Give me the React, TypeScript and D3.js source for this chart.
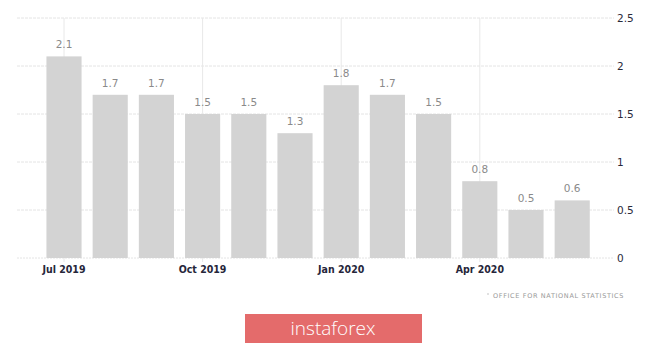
import React from "react";
import * as d3 from "d3";

const months = ["2019-07","2019-08","2019-09","2019-10","2019-11","2019-12","2020-01","2020-02","2020-03","2020-04","2020-05","2020-06"];
const values = [2.1, 1.7, 1.7, 1.5, 1.5, 1.3, 1.8, 1.7, 1.5, 0.8, 0.5, 0.6];
const yTicks = [0, 0.5, 1, 1.5, 2, 2.5];
const xTickMonths = ["2019-07", "2019-10", "2020-01", "2020-04"];
const xTickLabels = ["Jul 2019", "Oct 2019", "Jan 2020", "Apr 2020"];
const sourceText = "OFFICE FOR NATIONAL STATISTICS";
const brandText = "instaforex";

export default function App() {
  const W = 665, H = 345;
  const x = d3.scaleBand<string>().domain(months).range([40.9, 595.3]).paddingInner(0.24).paddingOuter(0.12);
  const y = d3.scaleLinear().domain([0, 2.5]).range([258, 18]);
  const gridLeft = 17, gridRight = 614;
  return (
    <svg width={W} height={H} style={{ position: "absolute", left: 0, top: 0, background: "#fff" }}>
      <rect x={0} y={0} width={W} height={H} fill="#fff" />
      {yTicks.map((t) => (
        <g key={t}>
          <line x1={gridLeft} x2={gridRight} y1={y(t)} y2={y(t)} stroke="#e4e4e4" strokeWidth={1} strokeDasharray={t === 0 ? "2,1" : "3,1"} />
          <text x={617} y={y(t) + 4} fontFamily="Verdana, DejaVu Sans, sans-serif" fontSize={10.5} fill="#2a2a3a">{t}</text>
        </g>
      ))}
      {xTickMonths.map((m) => (
        <line key={m} x1={x(m)! + x.bandwidth() / 2} x2={x(m)! + x.bandwidth() / 2} y1={18} y2={262} stroke="#e8e8e8" strokeWidth={1} />
      ))}
      {months.map((m, i) => (
        <g key={m}>
          <rect x={x(m)} y={y(values[i])} width={x.bandwidth()} height={y(0) - y(values[i])} fill="#d3d3d3" />
          <text x={x(m)! + x.bandwidth() / 2} y={y(values[i]) - 8} textAnchor="middle" fontFamily="Verdana, DejaVu Sans, sans-serif" fontSize={10.5} fill="#8a8a8a">{values[i]}</text>
        </g>
      ))}
      {xTickMonths.map((m, i) => (
        <text key={m} x={x(m)! + x.bandwidth() / 2} y={273} textAnchor="middle" fontFamily="DejaVu Sans Condensed, DejaVu Sans, sans-serif" fontWeight="bold" fontSize={10.5} fill="#26263a">{xTickLabels[i]}</text>
      ))}
      <circle cx={488} cy={294} r={0.8} fill="#bbb" />
      <text x={493} y={298} fontFamily="DejaVu Sans, sans-serif" fontSize={6.5} letterSpacing={0.65} fill="#999">{sourceText}</text>
      <rect x={245} y={314} width={177} height={29} fill="#e46b6b" />
      <text x={333} y={335} textAnchor="middle" fontFamily="Open Sans, sans-serif" fontWeight={300} fontSize={19} fill="#fff">{brandText}</text>
    </svg>
  );
}
